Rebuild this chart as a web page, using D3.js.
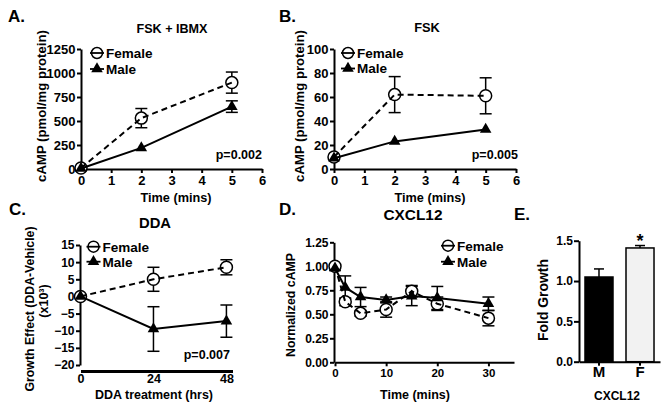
<!DOCTYPE html>
<html><head><meta charset="utf-8">
<script src="https://cdn.jsdelivr.net/npm/d3@7"></script>
<style>
body{margin:0;background:#fff}
svg{display:block}
text{font-family:'Liberation Sans',Arial,Helvetica,sans-serif;font-weight:bold;fill:#000}
</style>
</head><body>
<svg id="c" width="668" height="411"></svg>
<script>
// ---------- data ----------
const timeAB = [0, 2, 5];
const aFemale = [10, 530, 900];
const aFemaleErr = [0, 100, 110];
const aMale = [5, 220, 650];
const aMaleErr = [0, 0, 60];

const bFemale = [10, 62, 61];
const bFemaleErr = [0, 15, 15];
const bMale = [9, 23, 33];
const bMaleErr = [0, 0, 0];

const timeC = [0, 24, 48];
const cFemale = [0, 5, 8.5];
const cFemaleErr = [0, 3.5, 2.2];
const cMale = [0, -9.5, -7.2];
const cMaleErr = [0, 6.5, 4.7];

const timeD = [0, 2, 5, 10, 15, 20, 30];
const dFemale = [1.0, 0.63, 0.51, 0.55, 0.74, 0.61, 0.46];
const dFemaleErr = [0.02, 0.04, 0.03, 0.08, 0.06, 0.07, 0.08];
const dMale = [0.98, 0.78, 0.68, 0.65, 0.69, 0.67, 0.61];
const dMaleErr = [0.02, 0.12, 0.1, 0.03, 0.1, 0.12, 0.07];

const eGroups = ["M", "F"];
const eValues = [1.05, 1.41];
const eErr = [0.1, 0.03];

const ticksA_y = [0, 250, 500, 750, 1000, 1250];
const ticksB_y = [0, 20, 40, 60, 80, 100];
const ticksAB_x = [0, 1, 2, 3, 4, 5, 6];
const ticksC_y = [-20, -15, -10, -5, 0, 5, 10, 15];
const ticksC_x = [0, 24, 48];
const ticksD_y = [0, 0.25, 0.5, 0.75, 1.0, 1.25];
const ticksD_x = [0, 10, 20, 30];
const ticksE_y = [0, 0.5, 1.0, 1.5];

const seriesNames = ["Female", "Male"];

// ---------- helpers ----------
const svg = d3.select("#c");
const tri = d3.symbol().type(d3.symbolTriangle).size(58);

// font calibration against Arial-bold metrics
const cal = svg.append("text").attr("font-size", 100).text("cAMP (pmol/mg protein)");
const calW = cal.node().getComputedTextLength();
cal.remove();
const FS = (calW > 0) ? Math.max(0.8, Math.min(1.35, 1155.6 / calW)) : 1;

function txt(x, y, s, size, anchor, rot, target) {
  const t = svg.append("text").attr("font-size", size * FS).attr("text-anchor", anchor || "start").text(s);
  if (rot) t.attr("transform", `translate(${x},${y}) rotate(-90)`);
  else t.attr("x", x).attr("y", y);
  if (target) {
    const w = t.node().getComputedTextLength();
    if (w > 0) t.attr("font-size", size * FS * target / w);
  }
  return t;
}

function styleAxis(g, w) {
  g.selectAll(".domain").attr("stroke", "#000").attr("stroke-width", w || 2);
  g.selectAll(".tick line").attr("stroke", "#000").attr("stroke-width", 2);
  g.selectAll(".tick text").attr("fill", "#000");
  g.attr("font-family", null).attr("font-size", null);
}

function linePanel(cfg) {
  const g = svg.append("g");
  const x = d3.scaleLinear().domain(cfg.xDomain).range(cfg.xRange);
  const y = d3.scaleLinear().domain(cfg.yDomain).range(cfg.yRange);

  const ya = g.append("g").attr("transform", `translate(${cfg.yAxisX},0)`)
    .call(d3.axisLeft(y).tickValues(cfg.yTicks).tickSize(4).tickSizeOuter(0).tickPadding(1.5).tickFormat(cfg.yFormat));
  styleAxis(ya);
  ya.selectAll(".tick text").attr("font-size", cfg.yFont * FS);

  const xa = g.append("g").attr("transform", `translate(0,${cfg.xAxisY})`)
    .call(d3.axisBottom(x).tickValues(cfg.xTicks).tickSize(cfg.xTickSize).tickSizeOuter(0).tickPadding(cfg.xPad).tickFormat(d3.format("d")));
  styleAxis(xa, cfg.xAxisW);
  xa.selectAll(".tick text").attr("font-size", cfg.xFont * FS);

  const series = [
    {vals: cfg.female, err: cfg.femaleErr, dash: "6,4", circle: true},
    {vals: cfg.male, err: cfg.maleErr, dash: null, circle: false}
  ];
  series.forEach(s => {
    s.vals.forEach((v, i) => {
      const e = s.err[i];
      if (!e) return;
      const cx = x(cfg.times[i]);
      const eg = g.append("g").attr("stroke", "#000").attr("stroke-width", 1.5);
      eg.append("line").attr("x1", cx).attr("x2", cx).attr("y1", y(v - e)).attr("y2", y(v + e));
      [v - e, v + e].forEach(w => eg.append("line").attr("x1", cx - 6).attr("x2", cx + 6).attr("y1", y(w)).attr("y2", y(w)));
    });
  });
  series.forEach(s => {
    s.vals.forEach((v, i) => {
      if (s.circle) {
        g.append("circle").attr("cx", x(cfg.times[i])).attr("cy", y(v)).attr("r", 6)
          .attr("fill", "#fff").attr("stroke", "#000").attr("stroke-width", 1.5);
      } else {
        g.append("path").attr("d", tri).attr("transform", `translate(${x(cfg.times[i])},${y(v)})`).attr("fill", "#000");
      }
    });
  });
  const lineGen = d3.line().x((d, i) => x(cfg.times[i])).y(d => y(d));
  series.forEach(s => {
    g.append("path").attr("d", lineGen(s.vals)).attr("fill", "none").attr("stroke", "#000")
      .attr("stroke-width", 2).attr("stroke-dasharray", s.dash);
  });

  const lg = cfg.legend;
  seriesNames.forEach((name, k) => {
    const ly = lg.y + k * lg.dy;
    if (k === 0) {
      g.append("circle").attr("cx", lg.x).attr("cy", ly).attr("r", 5.5).attr("fill", "#fff").attr("stroke", "#000").attr("stroke-width", 1.5);
    } else {
      g.append("path").attr("d", tri).attr("transform", `translate(${lg.x},${ly})`).attr("fill", "#000");
    }
    g.append("line").attr("x1", lg.x - 7).attr("x2", lg.x + 7).attr("y1", ly).attr("y2", ly).attr("stroke", "#000").attr("stroke-width", 1.8);
    txt(lg.x + 9, ly + 4.8, name, 13.5);
  });
}

// ---------- Panel A ----------
linePanel({
  xDomain: [0, 6], xRange: [81, 262], yDomain: [0, 1250], yRange: [169, 49],
  yAxisX: 81, xAxisY: 169, yTicks: ticksA_y, xTicks: ticksAB_x, yFormat: d3.format("d"),
  yFont: 13, xFont: 13, xTickSize: 4, xPad: 3, xAxisW: 2,
  times: timeAB, female: aFemale, femaleErr: aFemaleErr, male: aMale, maleErr: aMaleErr,
  legend: {x: 97, y: 53, dy: 16}
});
txt(8, 22, "A.", 17);
txt(172, 33, "FSK + IBMX", 12.8, "middle", false, 71);
txt(176, 202, "Time (mins)", 12.8, "middle", false, 71);
txt(46, 106, "cAMP (pmol/mg protein)", 13, "middle", true, 152);
txt(262, 159, "p=0.002", 12.5, "end");

// ---------- Panel B ----------
linePanel({
  xDomain: [0, 6], xRange: [334, 516], yDomain: [0, 100], yRange: [169, 49],
  yAxisX: 334, xAxisY: 169, yTicks: ticksB_y, xTicks: ticksAB_x, yFormat: d3.format("d"),
  yFont: 13, xFont: 13, xTickSize: 4, xPad: 3, xAxisW: 2,
  times: timeAB, female: bFemale, femaleErr: bFemaleErr, male: bMale, maleErr: bMaleErr,
  legend: {x: 348, y: 53, dy: 15.5}
});
txt(279, 22, "B.", 17);
txt(427, 32, "FSK", 12.8, "middle");
txt(430, 202, "Time (mins)", 12.8, "middle", false, 71);
txt(304, 106, "cAMP (pmol/mg protein)", 13, "middle", true, 152);
txt(518, 159, "p=0.005", 12.5, "end");

// ---------- Panel C ----------
linePanel({
  xDomain: [0, 50], xRange: [80.5, 232.5], yDomain: [-20, 15], yRange: [365, 245],
  yAxisX: 80, xAxisY: 371, yTicks: ticksC_y, xTicks: ticksC_x, yFormat: d3.format("d"),
  yFont: 12, xFont: 12.5, xTickSize: 0, xPad: 3.5, xAxisW: 3,
  times: timeC, female: cFemale, femaleErr: cFemaleErr, male: cMale, maleErr: cMaleErr,
  legend: {x: 93.5, y: 246.7, dy: 15}
});
txt(9, 215, "C.", 17);
txt(155, 228, "DDA", 15, "middle", false, 32);
txt(154, 399, "DDA treatment (hrs)", 12.2, "middle", false, 118);
txt(34, 309, "Growth Effect (DDA-Vehicle)", 12.3, "middle", true, 165);
txt(48, 301, "(x10³)", 12.5, "middle", true);
txt(230, 359, "p=0.007", 12.5, "end");

// ---------- Panel D ----------
linePanel({
  xDomain: [0, 35], xRange: [335, 514], yDomain: [0, 1.25], yRange: [362.3, 242.3],
  yAxisX: 334, xAxisY: 362.3, yTicks: ticksD_y, xTicks: ticksD_x, yFormat: d3.format(".2f"),
  yFont: 12, xFont: 11.5, xTickSize: 4, xPad: 2.5, xAxisW: 2,
  times: timeD, female: dFemale, femaleErr: dFemaleErr, male: dMale, maleErr: dMaleErr,
  legend: {x: 448, y: 245.7, dy: 16}
});
txt(279, 215, "D.", 17);
txt(413, 220, "CXCL12", 15.3, "middle", false, 59);
txt(415, 399, "Time (mins)", 12.5, "middle", false, 70);
txt(295, 305, "Normalized cAMP", 12.3, "middle", true, 104);

// ---------- Panel E ----------
(function () {
  const g = svg.append("g");
  const x = d3.scaleBand().domain(eGroups).range([579, 660]).paddingInner(0.317).paddingOuter(0.146);
  const y = d3.scaleLinear().domain([0, 1.5]).range([361.7, 240.7]);
  eGroups.forEach((k, i) => {
    g.append("rect").attr("x", x(k)).attr("width", x.bandwidth())
      .attr("y", y(eValues[i])).attr("height", y(0) - y(eValues[i]))
      .attr("fill", i === 0 ? "#000" : "#f2f2f2").attr("stroke", "#000").attr("stroke-width", 1.5);
    const cx = x(k) + x.bandwidth() / 2;
    const eg = g.append("g").attr("stroke", "#000").attr("stroke-width", 1.5);
    eg.append("line").attr("x1", cx).attr("x2", cx).attr("y1", y(eValues[i])).attr("y2", y(eValues[i] + eErr[i]));
    eg.append("line").attr("x1", cx - 5).attr("x2", cx + 5).attr("y1", y(eValues[i] + eErr[i])).attr("y2", y(eValues[i] + eErr[i]));
  });
  const ya = g.append("g").attr("transform", "translate(579,0)")
    .call(d3.axisLeft(y).tickValues(ticksE_y).tickSize(5).tickSizeOuter(0).tickPadding(1).tickFormat(d3.format(".1f")));
  styleAxis(ya);
  ya.selectAll(".tick text").attr("font-size", 12 * FS);
  const xa = g.append("g").attr("transform", "translate(0,361.7)")
    .call(d3.axisBottom(x).tickSize(4).tickSizeOuter(0).tickPadding(1));
  styleAxis(xa);
  xa.selectAll(".tick text").attr("font-size", 15 * FS);
  const fx = x("F") + x.bandwidth() / 2;
  txt(fx, 247, "*", 18, "middle");
})();
txt(514, 220, "E.", 17);
txt(617, 400, "CXCL12", 12.3, "middle", false, 46);
txt(548, 300, "Fold Growth", 13.8, "middle", true, 82);
</script>
</body></html>
